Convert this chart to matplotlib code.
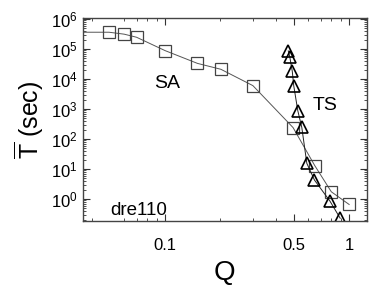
import matplotlib
matplotlib.use("Agg")
import matplotlib.pyplot as plt
from matplotlib.ticker import LogLocator, LogFormatterSciNotation, NullFormatter, FixedLocator, FixedFormatter

plt.rcParams['font.family'] = ['Liberation Sans', 'DejaVu Sans']
plt.rcParams['mathtext.fontset'] = 'custom'
plt.rcParams['mathtext.rm'] = 'Liberation Sans'
plt.rcParams['mathtext.it'] = 'Liberation Sans:italic'
plt.rcParams['mathtext.bf'] = 'Liberation Sans:bold'

# SA series (squares); first point lies left of the visible range
sa_q = [0.030, 0.0496, 0.060, 0.070, 0.100, 0.150, 0.201, 0.300, 0.496, 0.650, 0.800, 1.00]
sa_t = [3.6e5, 3.6e5, 3.1e5, 2.45e5, 8.8e4, 3.3e4, 2.1e4, 6.0e3, 2.4e2, 13.1, 1.75, 0.66]

# TS series (triangles)
ts_q = [0.467, 0.476, 0.491, 0.500, 0.526, 0.553, 0.589, 0.648, 0.786, 0.894]
ts_t = [8.6e4, 5.4e4, 1.8e4, 6.0e3, 8.8e2, 2.45e2, 15.5, 4.3, 0.86, 0.23]

x_ticks = [0.1, 0.5, 1.0]
x_ticklabels = ['0.1', '0.5', '1']

fig = plt.figure(figsize=(3.82, 2.86), dpi=100)
ax = fig.add_axes([0.2165, 0.2273, 0.7442, 0.7087])

ax.plot(sa_q, sa_t, '-', color='#555555', lw=0.7, marker='s', ms=8.5,
        mfc='none', mec='#444444', mew=0.9, clip_on=True)
ax.plot(ts_q, ts_t, '-', color='#222222', lw=0.7, marker='^', ms=8.5,
        mfc='none', mec='black', mew=1.2)

ax.set_xscale('log')
ax.set_yscale('log')
ax.set_xlim(0.0357, 1.25)
ax.set_ylim(10**-0.73, 10**6.02)

ax.xaxis.set_major_locator(FixedLocator(x_ticks))
ax.xaxis.set_major_formatter(FixedFormatter(x_ticklabels))
ax.xaxis.set_minor_locator(LogLocator(base=10, subs=[2, 3, 4, 6, 7, 8, 9]))
ax.xaxis.set_minor_formatter(NullFormatter())
ax.yaxis.set_major_locator(LogLocator(base=10, numticks=20))
ax.yaxis.set_major_formatter(LogFormatterSciNotation())
ax.yaxis.set_minor_locator(LogLocator(base=10, subs=[2, 3, 4, 5, 6, 7, 8, 9], numticks=20))
ax.yaxis.set_minor_formatter(NullFormatter())

ax.tick_params(which='both', direction='in', top=True, right=True, labelsize=12, colors='#333333', labelcolor='black')
ax.tick_params(axis='x', which='major', pad=12)
ax.tick_params(which='major', length=5, width=0.8)
ax.tick_params(which='minor', length=2.5, width=0.6)
for s in ax.spines.values():
    s.set_linewidth(1.0)
    s.set_color('#444444')

ax.set_xlabel('Q', fontsize=20, labelpad=5)
ax.set_ylabel(r'$\overline{\mathrm{T}}$ (sec)', fontsize=18, labelpad=4)

ax.text(0.103, 6.8e3, 'SA', fontsize=14, ha='center', va='center')
ax.text(0.738, 1.35e3, 'TS', fontsize=14, ha='center', va='center')
ax.text(0.072, 0.43, 'dre110', fontsize=13.5, ha='center', va='center')

fig.savefig('out.png', dpi=100)
